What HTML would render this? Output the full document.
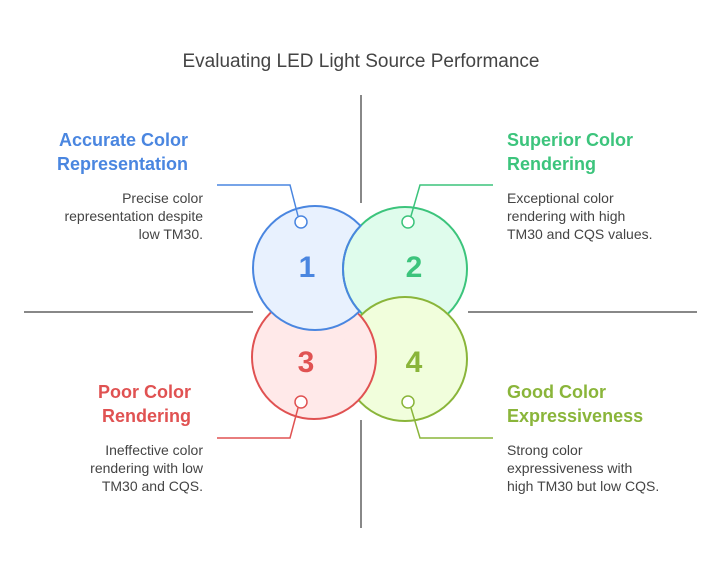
<!DOCTYPE html>
<html><head><style>
body{margin:0;background:#fff;width:721px;height:576px;overflow:hidden;font-family:"Liberation Sans",sans-serif;}
</style></head><body>
<svg width="721" height="576" xmlns="http://www.w3.org/2000/svg" font-family="Liberation Sans, sans-serif">
<defs>
<clipPath id="c1"><circle cx="315" cy="268" r="63.5"/></clipPath>
<clipPath id="c4"><circle cx="405" cy="359" r="63.5"/></clipPath>
</defs>
<text x="361" y="67" text-anchor="middle" font-size="19" fill="#444">Evaluating LED Light Source Performance</text>
<g stroke="#888" stroke-width="2">
<line x1="361" y1="95" x2="361" y2="203"/>
<line x1="361" y1="420" x2="361" y2="528"/>
<line x1="24" y1="312" x2="253" y2="312"/>
<line x1="468" y1="312" x2="697" y2="312"/>
</g>
<g stroke-width="2">
<circle cx="314" cy="357" r="62" fill="#ffe9e9" stroke="#e05252"/>
<circle cx="315" cy="268" r="62" fill="#e8f1fe" stroke="#4a86e0"/>
<circle cx="405" cy="269" r="62" fill="#dffcec" stroke="#3cc47c"/>
<circle cx="405" cy="359" r="62" fill="#f1fedc" stroke="#8ab53a"/>
<g clip-path="url(#c4)"><circle cx="314" cy="357" r="62" fill="#ffe9e9" stroke="#e05252"/></g>
<g clip-path="url(#c1)"><circle cx="405" cy="269" r="62" fill="none" stroke="#4a86e0"/></g>
</g>
<g fill="none" stroke-width="1.5">
<polyline points="217,185 290,185 298,216" stroke="#4a86e0"/><circle cx="301" cy="222" r="6" fill="#fff" stroke="#4a86e0"/>
<polyline points="493,185 420,185 411,216" stroke="#3cc47c"/><circle cx="408" cy="222" r="6" fill="#fff" stroke="#3cc47c"/>
<polyline points="217,438 290,438 298,408" stroke="#e05252"/><circle cx="301" cy="402" r="6" fill="#fff" stroke="#e05252"/>
<polyline points="493,438 420,438 411,408" stroke="#8ab53a"/><circle cx="408" cy="402" r="6" fill="#fff" stroke="#8ab53a"/>
</g>
<g font-size="30" font-weight="bold" text-anchor="middle">
<text x="307" y="277" fill="#4a86e0">1</text>
<text x="414" y="277" fill="#3cc47c">2</text>
<text x="306" y="372" fill="#e05252">3</text>
<text x="414" y="372" fill="#8ab53a">4</text>
</g>
<g font-size="18" font-weight="bold">
<text x="188" y="146" text-anchor="end" fill="#4a86e0">Accurate Color</text>
<text x="188" y="170" text-anchor="end" fill="#4a86e0">Representation</text>
<text x="507" y="146" fill="#3cc47c">Superior Color</text>
<text x="507" y="170" fill="#3cc47c">Rendering</text>
<text x="191" y="398" text-anchor="end" fill="#e05252">Poor Color</text>
<text x="191" y="422" text-anchor="end" fill="#e05252">Rendering</text>
<text x="507" y="398" fill="#8ab53a">Good Color</text>
<text x="507" y="422" fill="#8ab53a">Expressiveness</text>
</g>
<g font-size="14" fill="#444">
<text x="203" y="203" text-anchor="end">Precise color</text>
<text x="203" y="221" text-anchor="end">representation despite</text>
<text x="203" y="239" text-anchor="end">low TM30.</text>
<text x="507" y="203">Exceptional color</text>
<text x="507" y="221">rendering with high</text>
<text x="507" y="239">TM30 and CQS values.</text>
<text x="203" y="455" text-anchor="end">Ineffective color</text>
<text x="203" y="473" text-anchor="end">rendering with low</text>
<text x="203" y="491" text-anchor="end">TM30 and CQS.</text>
<text x="507" y="455">Strong color</text>
<text x="507" y="473">expressiveness with</text>
<text x="507" y="491">high TM30 but low CQS.</text>
</g>
</svg>
</body></html>
